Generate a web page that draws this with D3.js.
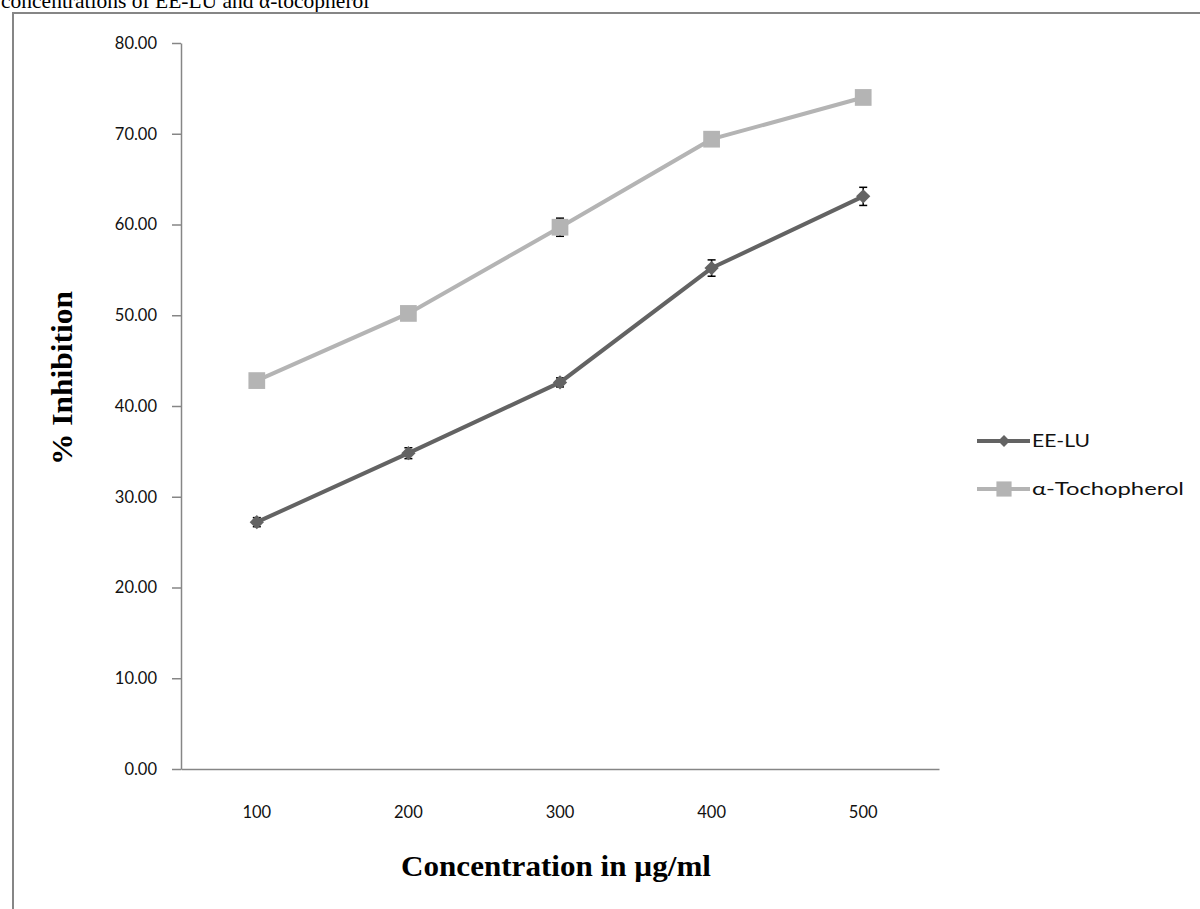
<!DOCTYPE html>
<html>
<head>
<meta charset="utf-8">
<script src="https://cdn.jsdelivr.net/npm/d3@7/dist/d3.min.js"></script>
<style>
  html, body { margin: 0; padding: 0; background: #fff; }
  svg { display: block; }
</style>
</head>
<body>
<svg id="chart" width="1200" height="909"></svg>
<script>
// Concentrations tested (µg/ml)
const concentrations = ["100", "200", "300", "400", "500"];
// % inhibition for the extract and the reference antioxidant
const eeluValues = [27.2, 34.8, 42.6, 55.2, 63.1];
const eeluErrors = [0.5, 0.6, 0.5, 0.9, 1.0];
const tocoValues = [42.8, 50.2, 59.7, 69.4, 74.0];
const tocoErrors = [0.4, 0.5, 1.0, 0.5, 0.5];
const yTicks = [0, 10, 20, 30, 40, 50, 60, 70, 80];
const seriesNames = ["EE-LU", "\u03b1-Tochopherol"];

const svg = d3.select("#chart");
const axisColor = "#868686";
const sansFont = "Lato, 'Open Sans', sans-serif";
const serifFont = "'Liberation Serif', 'Times New Roman', serif";

// Caption line running off the top of the page
svg.append("text")
  .attr("x", 1).attr("y", 8)
  .attr("font-family", serifFont).attr("font-size", 21.5)
  .attr("fill", "#000")
  .text("concentrations of EE-LU and \u03b1-tocopherol");

// Outer frame (top and left edges)
svg.append("path")
  .attr("d", "M13,909 V13 H1200")
  .attr("fill", "none").attr("stroke", axisColor).attr("stroke-width", 2);

const plot = { left: 181, right: 939, top: 43, bottom: 769 };

const x = d3.scaleBand().domain(concentrations).range([plot.left, plot.right]);
const y = d3.scaleLinear().domain([0, 80]).range([plot.bottom, plot.top]);
const cx = d => x(d) + x.bandwidth() / 2;

// Y axis
const yAxis = svg.append("g")
  .attr("transform", `translate(${plot.left},0)`)
  .call(d3.axisLeft(y).tickValues(yTicks).tickFormat(d3.format(".2f")).tickSize(9).tickSizeOuter(0).tickPadding(15));
yAxis.select(".domain").attr("stroke", axisColor).attr("stroke-width", 1.5);
yAxis.selectAll(".tick line").attr("stroke", axisColor).attr("stroke-width", 1.5);
yAxis.selectAll(".tick text")
  .attr("font-family", sansFont).attr("font-size", 16.5).attr("fill", "#111");

// X axis (no tick marks)
const xAxis = svg.append("g")
  .attr("transform", `translate(0,${plot.bottom})`)
  .call(d3.axisBottom(x).tickSize(0).tickPadding(37));
xAxis.select(".domain").attr("stroke", axisColor).attr("stroke-width", 1.5);
xAxis.selectAll(".tick text")
  .attr("font-family", sansFont).attr("font-size", 16.5).attr("fill", "#111");

// Axis titles
svg.append("text")
  .attr("transform", "translate(72,378) rotate(-90)")
  .attr("text-anchor", "middle")
  .attr("font-family", serifFont).attr("font-weight", "bold").attr("font-size", 30)
  .attr("textLength", 174).attr("lengthAdjust", "spacingAndGlyphs")
  .text("% Inhibition");

svg.append("text")
  .attr("x", 556).attr("y", 876)
  .attr("text-anchor", "middle")
  .attr("font-family", serifFont).attr("font-weight", "bold").attr("font-size", 29)
  .attr("textLength", 310).attr("lengthAdjust", "spacingAndGlyphs")
  .text("Concentration in  \u00b5g/ml");

const line = d3.line().x(d => cx(d.c)).y(d => y(d.v));

const series = [
  { name: seriesNames[1], values: tocoValues, errors: tocoErrors, color: "#b4b4b4", symbol: d3.symbolSquare, size: 280 },
  { name: seriesNames[0], values: eeluValues, errors: eeluErrors, color: "#636363", symbol: d3.symbolDiamond2, size: 130 }
];

series.forEach(s => {
  const pts = concentrations.map((c, i) => ({ c, v: s.values[i], e: s.errors[i] }));
  const g = svg.append("g");
  // error bars
  const eb = g.selectAll(".eb").data(pts).enter().append("g").attr("stroke", "#000").attr("stroke-width", 1.5);
  eb.append("line").attr("x1", d => cx(d.c)).attr("x2", d => cx(d.c))
    .attr("y1", d => y(d.v - d.e)).attr("y2", d => y(d.v + d.e));
  eb.append("line").attr("x1", d => cx(d.c) - 4).attr("x2", d => cx(d.c) + 4)
    .attr("y1", d => y(d.v - d.e)).attr("y2", d => y(d.v - d.e));
  eb.append("line").attr("x1", d => cx(d.c) - 4).attr("x2", d => cx(d.c) + 4)
    .attr("y1", d => y(d.v + d.e)).attr("y2", d => y(d.v + d.e));
  g.append("path").datum(pts).attr("d", line)
    .attr("fill", "none").attr("stroke", s.color).attr("stroke-width", 4);
  g.selectAll(".m").data(pts).enter().append("path")
    .attr("transform", d => `translate(${cx(d.c)},${y(d.v)})`)
    .attr("d", d3.symbol().type(s.symbol).size(s.size))
    .attr("fill", s.color);
});

// Legend
const legend = svg.append("g").attr("transform", "translate(977,0)");
const legendItems = [
  { name: seriesNames[0], color: "#636363", symbol: d3.symbolDiamond2, size: 90, y: 441, width: 58 },
  { name: seriesNames[1], color: "#b4b4b4", symbol: d3.symbolSquare, size: 230, y: 489, width: 152 }
];
legendItems.forEach(it => {
  legend.append("line").attr("x1", 0).attr("x2", 53).attr("y1", it.y).attr("y2", it.y)
    .attr("stroke", it.color).attr("stroke-width", 4);
  legend.append("path").attr("transform", `translate(27,${it.y})`)
    .attr("d", d3.symbol().type(it.symbol).size(it.size)).attr("fill", it.color);
  legend.append("text").attr("x", 55).attr("y", it.y).attr("dy", "0.35em")
    .attr("font-family", sansFont).attr("font-size", 18).attr("fill", "#111")
    .attr("textLength", it.width).attr("lengthAdjust", "spacingAndGlyphs")
    .text(it.name);
});
</script>
</body>
</html>
